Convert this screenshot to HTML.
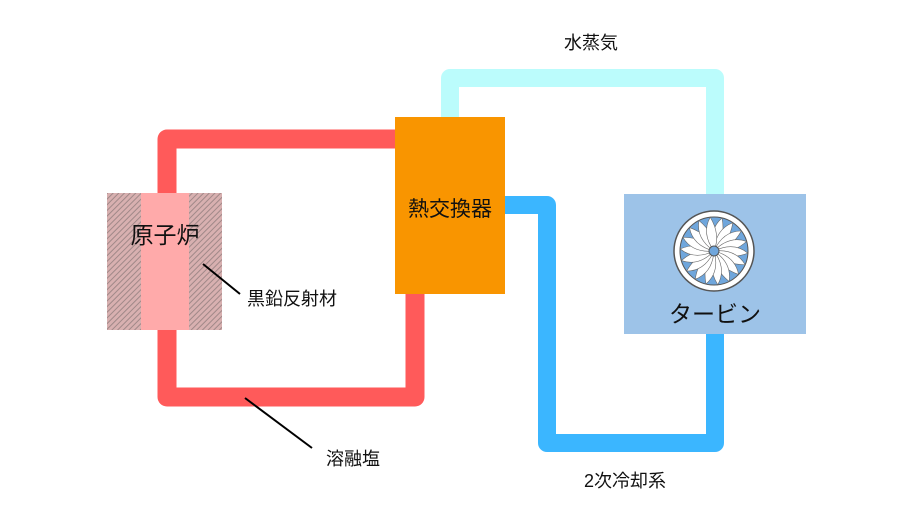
<!DOCTYPE html>
<html><head><meta charset="utf-8"><style>
html,body{margin:0;padding:0;background:#fff;}
text{font-family:"Liberation Sans","Noto Sans CJK JP",sans-serif;fill:#111;}
</style></head><body>
<svg width="900" height="521" viewBox="0 0 900 521" xmlns="http://www.w3.org/2000/svg">
<defs>
<pattern id="hatch" width="4" height="4" patternUnits="userSpaceOnUse" patternTransform="rotate(45)">
<rect width="4" height="4" fill="#d8b0b0"/>
<line x1="0" y1="0" x2="0" y2="4" stroke="#a08888" stroke-width="2"/>
</pattern>
</defs>
<path d="M415,139 H167 V397 H415 V290" fill="none" stroke="#ff5a5a" stroke-width="19" stroke-linejoin="round" stroke-linecap="round"/>
<path d="M450,120 V78 H715 V200" fill="none" stroke="#bbfcfc" stroke-width="18" stroke-linejoin="round" stroke-linecap="round"/>
<path d="M500,205 H547 V443 H715 V330" fill="none" stroke="#3bb6ff" stroke-width="18" stroke-linejoin="round" stroke-linecap="round"/>
<rect x="107" y="193" width="115" height="137" fill="url(#hatch)"/>
<rect x="141" y="193" width="48" height="137" fill="#ffaaaa"/>
<text x="165" y="243" font-size="23" text-anchor="middle">原子炉</text>
<line x1="203" y1="264" x2="240" y2="294" stroke="#000" stroke-width="2"/>
<text x="247" y="305" font-size="18">黒鉛反射材</text>
<line x1="245" y1="398" x2="312" y2="448" stroke="#000" stroke-width="2"/>
<text x="326" y="465" font-size="18">溶融塩</text>
<rect x="395" y="117" width="110" height="177" fill="#f99500"/>
<text x="450" y="216" font-size="21" text-anchor="middle">熱交換器</text>
<rect x="624" y="194" width="182" height="140" fill="#9dc3e8"/>
<circle cx="714" cy="251" r="40" fill="#fff" stroke="#555" stroke-width="1.5"/>
<circle cx="714" cy="251" r="34" fill="#6fa6dc" stroke="#555" stroke-width="1"/>
<g fill="#fff" stroke="#666" stroke-width="0.6">
<path id="bl" d="M714,251 Q726,238 722,218 Q708,230 714,251Z"/>
<use href="#bl" transform="rotate(20 714 251)"/><use href="#bl" transform="rotate(40 714 251)"/>
<use href="#bl" transform="rotate(60 714 251)"/><use href="#bl" transform="rotate(80 714 251)"/>
<use href="#bl" transform="rotate(100 714 251)"/><use href="#bl" transform="rotate(120 714 251)"/>
<use href="#bl" transform="rotate(140 714 251)"/><use href="#bl" transform="rotate(160 714 251)"/>
<use href="#bl" transform="rotate(180 714 251)"/><use href="#bl" transform="rotate(200 714 251)"/>
<use href="#bl" transform="rotate(220 714 251)"/><use href="#bl" transform="rotate(240 714 251)"/>
<use href="#bl" transform="rotate(260 714 251)"/><use href="#bl" transform="rotate(280 714 251)"/>
<use href="#bl" transform="rotate(300 714 251)"/><use href="#bl" transform="rotate(320 714 251)"/>
<use href="#bl" transform="rotate(340 714 251)"/>
</g>
<circle cx="714" cy="251" r="5" fill="#6fa6dc" stroke="#555" stroke-width="1"/>
<text x="715" y="322" font-size="23" text-anchor="middle">タービン</text>
<text x="591" y="49" font-size="18" text-anchor="middle">水蒸気</text>
<text x="625" y="487" font-size="18" text-anchor="middle">2次冷却系</text>
</svg>
</body></html>
